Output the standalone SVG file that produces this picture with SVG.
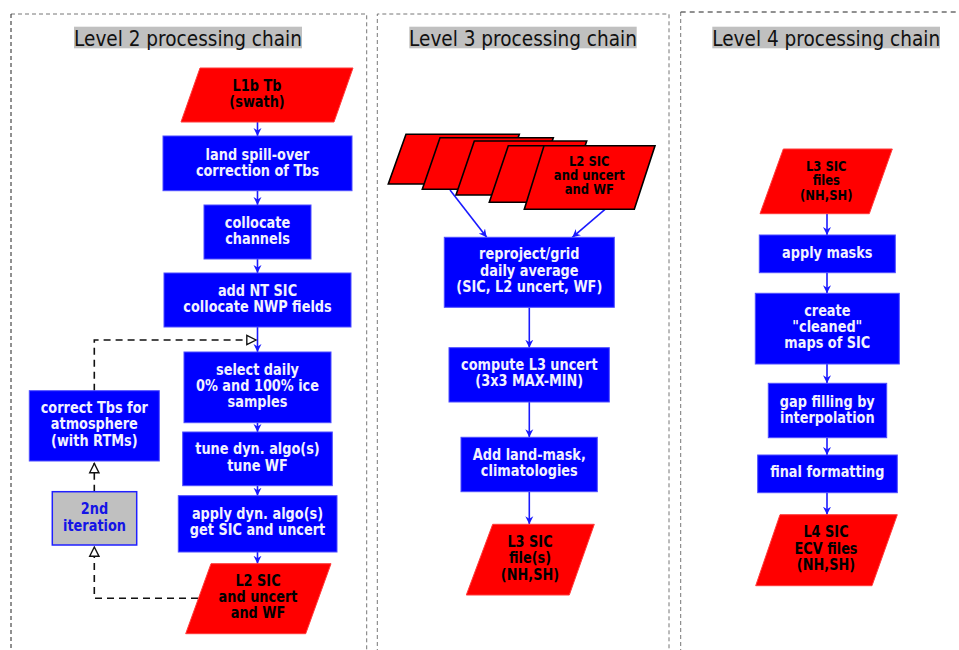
<svg xmlns="http://www.w3.org/2000/svg" width="959" height="650" viewBox="0 0 959 650">
<style>
.frame{fill:none;stroke:#777;stroke-width:1;stroke-dasharray:4 3}
.frame-dark{fill:none;stroke:#222;stroke-width:1;stroke-dasharray:4 3}
.tbg{fill:#c0c0c0}
.title{font-family:"DejaVu Sans","Liberation Sans",sans-serif;font-size:21.5px;fill:#111;text-anchor:middle}
.proc{fill:#0000ff;stroke:#4d4dff;stroke-width:1}
.data{fill:#ff0000;stroke:#ff3b3b;stroke-width:1}
.stack{fill:#ff0000;stroke:#000;stroke-width:1.6;stroke-linejoin:miter}
.iter{fill:#c0c0c0;stroke:#2020ff;stroke-width:1.5}
.t{font-family:"DejaVu Sans","Liberation Sans",sans-serif;font-weight:bold;font-size:15px;text-anchor:middle}
.s{font-size:13.5px}
.w{fill:#f2f2ff}
.k{fill:#000}
.bl{fill:#1414e6}
.flow{fill:none;stroke:#1a1aff;stroke-width:1.6}
.dash{fill:none;stroke:#111;stroke-width:1.6;stroke-dasharray:7 5}
</style>
<defs>
<marker id="ah" markerUnits="userSpaceOnUse" markerWidth="10" markerHeight="10" refX="8" refY="4" orient="auto" viewBox="0 0 10 8">
<path d="M0,0 L8,4 L0,8 L2.5,4 z" fill="#1a1aff"/>
</marker>
<marker id="oh" markerUnits="userSpaceOnUse" markerWidth="12" markerHeight="12" refX="10.5" refY="5" orient="auto" viewBox="-1 -1 13 12">
<path d="M0,0 L10,5 L0,10 z" fill="#fff" stroke="#111" stroke-width="1.5" stroke-dasharray="none"/>
</marker>
</defs>
<rect width="959" height="650" fill="#fff"/>

<g id="frames">
<path class="frame" d="M11,14 H366.7 V660"/>
<path class="frame-dark" d="M11,14 V660"/>
<path class="frame" d="M377.3,660 V14 H669 V660"/>
<path class="frame" d="M680.7,660 V12"/>
<path class="frame-dark" style="stroke-dasharray:5 4" d="M680.7,12 H965"/>
</g>

<g id="titles">
<rect class="tbg" x="74" y="26.7" width="228" height="21.6"/>
<text class="title" transform="translate(188 45.6) scale(0.86 1)">Level 2 processing chain</text>
<rect class="tbg" x="409.3" y="26.7" width="227.4" height="21.6"/>
<text class="title" transform="translate(523 45.6) scale(0.86 1)">Level 3 processing chain</text>
<rect class="tbg" x="712.3" y="26.7" width="227.7" height="21.6"/>
<text class="title" transform="translate(826.2 45.6) scale(0.86 1)">Level 4 processing chain</text>
</g>

<g id="connectors">
<line class="flow" x1="257.5" y1="122" x2="257.5" y2="136" marker-end="url(#ah)"/>
<line class="flow" x1="257.5" y1="190.7" x2="257.5" y2="205" marker-end="url(#ah)"/>
<line class="flow" x1="257.5" y1="259" x2="257.5" y2="273" marker-end="url(#ah)"/>
<line class="flow" x1="257.5" y1="327" x2="257.5" y2="352" marker-end="url(#ah)"/>
<line class="flow" x1="257.5" y1="422.7" x2="257.5" y2="432" marker-end="url(#ah)"/>
<line class="flow" x1="257.5" y1="485.7" x2="257.5" y2="495.7" marker-end="url(#ah)"/>
<line class="flow" x1="257.5" y1="552" x2="257.5" y2="563.7" marker-end="url(#ah)"/>
<path class="dash" d="M94.3,390.7 V340 H256.5" marker-end="url(#oh)"/>
<path class="dash" d="M94.3,491.7 V463" marker-end="url(#oh)"/>
<path class="dash" d="M198,598.3 H94.3 V546.5" marker-end="url(#oh)"/>

<line class="flow" x1="450" y1="190" x2="486.7" y2="237.3" marker-end="url(#ah)"/>
<line class="flow" x1="605" y1="209.3" x2="572.3" y2="237.3" marker-end="url(#ah)"/>
<line class="flow" x1="529.3" y1="307.3" x2="529.3" y2="347.7" marker-end="url(#ah)"/>
<line class="flow" x1="529.3" y1="402" x2="529.3" y2="437.3" marker-end="url(#ah)"/>
<line class="flow" x1="529.3" y1="491.7" x2="529.3" y2="524.3" marker-end="url(#ah)"/>

<line class="flow" x1="827" y1="213.7" x2="827" y2="235" marker-end="url(#ah)"/>
<line class="flow" x1="827" y1="272.7" x2="827" y2="293.3" marker-end="url(#ah)"/>
<line class="flow" x1="827" y1="364" x2="827" y2="383.3" marker-end="url(#ah)"/>
<line class="flow" x1="827" y1="437.7" x2="827" y2="455" marker-end="url(#ah)"/>
<line class="flow" x1="827" y1="492.7" x2="827" y2="514.7" marker-end="url(#ah)"/>
</g>

<g id="n_l1b">
<polygon class="data" points="200,68 353,68 334,122 181,122"/>
<text class="t k" transform="translate(257 90.7) scale(0.86 1)"><tspan x="0">L1b Tb</tspan><tspan x="0" dy="16">(swath)</tspan></text>
</g>
<g id="n_land">
<rect class="proc" x="163" y="136" width="189" height="54.7"/>
<text class="t w" transform="translate(257.5 160) scale(0.86 1)"><tspan x="0">land spill-over</tspan><tspan x="0" dy="15.7">correction of Tbs</tspan></text>
</g>
<g id="n_colloc">
<rect class="proc" x="204" y="205" width="107" height="54"/>
<text class="t w" transform="translate(257.5 228) scale(0.86 1)"><tspan x="0">collocate</tspan><tspan x="0" dy="16">channels</tspan></text>
</g>
<g id="n_addnt">
<rect class="proc" x="164" y="273" width="187" height="54"/>
<text class="t w" transform="translate(257.5 296) scale(0.86 1)"><tspan x="0">add NT SIC</tspan><tspan x="0" dy="16">collocate NWP fields</tspan></text>
</g>
<g id="n_select">
<rect class="proc" x="184" y="352" width="147" height="70.7"/>
<text class="t w" transform="translate(257.5 375) scale(0.86 1)"><tspan x="0">select daily</tspan><tspan x="0" dy="16">0% and 100% ice</tspan><tspan x="0" dy="16">samples</tspan></text>
</g>
<g id="n_tune">
<rect class="proc" x="182.7" y="432" width="149.6" height="53.7"/>
<text class="t w" transform="translate(257.5 454.3) scale(0.86 1)"><tspan x="0">tune dyn. algo(s)</tspan><tspan x="0" dy="16.4">tune WF</tspan></text>
</g>
<g id="n_apply">
<rect class="proc" x="178.3" y="495.7" width="158.7" height="56.3"/>
<text class="t w" transform="translate(257.5 519) scale(0.86 1)"><tspan x="0">apply dyn. algo(s)</tspan><tspan x="0" dy="16.3">get SIC and uncert</tspan></text>
</g>
<g id="n_l2">
<polygon class="data" points="211,563.7 331,563.7 305.7,633.7 185.7,633.7"/>
<text class="t k" transform="translate(258 585.7) scale(0.86 1)"><tspan x="0">L2 SIC</tspan><tspan x="0" dy="16.2">and uncert</tspan><tspan x="0" dy="16.2">and WF</tspan></text>
</g>
<g id="n_correct">
<rect class="proc" x="29.3" y="390.7" width="130" height="70.3"/>
<text class="t w" transform="translate(94.3 413) scale(0.86 1)"><tspan x="0">correct Tbs for</tspan><tspan x="0" dy="16.3">atmosphere</tspan><tspan x="0" dy="16.3">(with RTMs)</tspan></text>
</g>
<g id="n_iter">
<rect class="iter" x="52.3" y="491.7" width="84.4" height="53.3"/>
<text class="t bl" transform="translate(94.5 514.3) scale(0.86 1)"><tspan x="0">2nd</tspan><tspan x="0" dy="16.4">iteration</tspan></text>
</g>

<g id="n_l2stack">
<polygon class="stack" points="406,134.3 519.3,134.3 501.6,184 388.3,184"/>
<polygon class="stack" points="440,137.7 553.3,137.7 535.6,189.3 422.3,189.3"/>
<polygon class="stack" points="474.3,141 586.7,141 568.4,195 456,195"/>
<polygon class="stack" points="508.3,145.7 621,145.7 602,202.3 489.3,202.3"/>
<polygon class="stack" points="544,145.7 655,145.7 634.3,209.3 524.3,209.3"/>
<text class="t s k" transform="translate(589.3 165.7) scale(0.86 1)"><tspan x="0">L2 SIC</tspan><tspan x="0" dy="14.3">and uncert</tspan><tspan x="0" dy="14.3">and WF</tspan></text>
</g>
<g id="n_reproj">
<rect class="proc" x="444.3" y="237.3" width="170" height="70"/>
<text class="t w" transform="translate(529.3 259.3) scale(0.86 1)"><tspan x="0">reproject/grid</tspan><tspan x="0" dy="16.3">daily average</tspan><tspan x="0" dy="16.3">(SIC, L2 uncert, WF)</tspan></text>
</g>
<g id="n_compute">
<rect class="proc" x="449" y="347.7" width="160.3" height="54.3"/>
<text class="t w" transform="translate(529.3 370) scale(0.86 1)"><tspan x="0">compute L3 uncert</tspan><tspan x="0" dy="16">(3x3 MAX-MIN)</tspan></text>
</g>
<g id="n_addland">
<rect class="proc" x="461" y="437.3" width="136.3" height="54.4"/>
<text class="t w" transform="translate(529.3 460) scale(0.86 1)"><tspan x="0">Add land-mask,</tspan><tspan x="0" dy="16">climatologies</tspan></text>
</g>
<g id="n_l3">
<polygon class="data" points="492.7,524.3 594.3,524.3 569.3,595 466.3,595"/>
<text class="t k" transform="translate(530 547.3) scale(0.86 1)"><tspan x="0">L3 SIC</tspan><tspan x="0" dy="16.2">file(s)</tspan><tspan x="0" dy="16.2">(NH,SH)</tspan></text>
</g>

<g id="n_l3in">
<polygon class="data" points="783.3,149 892.3,149 869.3,213.7 760,213.7"/>
<text class="t s k" transform="translate(826.3 171) scale(0.86 1)"><tspan x="0">L3 SIC</tspan><tspan x="0" dy="14.5">files</tspan><tspan x="0" dy="14.5">(NH,SH)</tspan></text>
</g>
<g id="n_masks">
<rect class="proc" x="759.3" y="235" width="136" height="37.7"/>
<text class="t w" transform="translate(827.3 258.3) scale(0.86 1)">apply masks</text>
</g>
<g id="n_create">
<rect class="proc" x="755.3" y="293.3" width="144" height="70.7"/>
<text class="t w" transform="translate(827.3 315.7) scale(0.86 1)"><tspan x="0">create</tspan><tspan x="0" dy="16.3">&quot;cleaned&quot;</tspan><tspan x="0" dy="16.3">maps of SIC</tspan></text>
</g>
<g id="n_gap">
<rect class="proc" x="768.3" y="383.3" width="118.4" height="54.4"/>
<text class="t w" transform="translate(827.3 406.7) scale(0.86 1)"><tspan x="0">gap filling by</tspan><tspan x="0" dy="16">interpolation</tspan></text>
</g>
<g id="n_final">
<rect class="proc" x="757.7" y="455" width="139.6" height="37.7"/>
<text class="t w" transform="translate(827.3 477.3) scale(0.86 1)">final formatting</text>
</g>
<g id="n_l4">
<polygon class="data" points="780,514.7 897.3,514.7 872,585.7 755.7,585.7"/>
<text class="t k" transform="translate(826 537.3) scale(0.86 1)"><tspan x="0">L4 SIC</tspan><tspan x="0" dy="16.3">ECV files</tspan><tspan x="0" dy="16.3">(NH,SH)</tspan></text>
</g>
</svg>
